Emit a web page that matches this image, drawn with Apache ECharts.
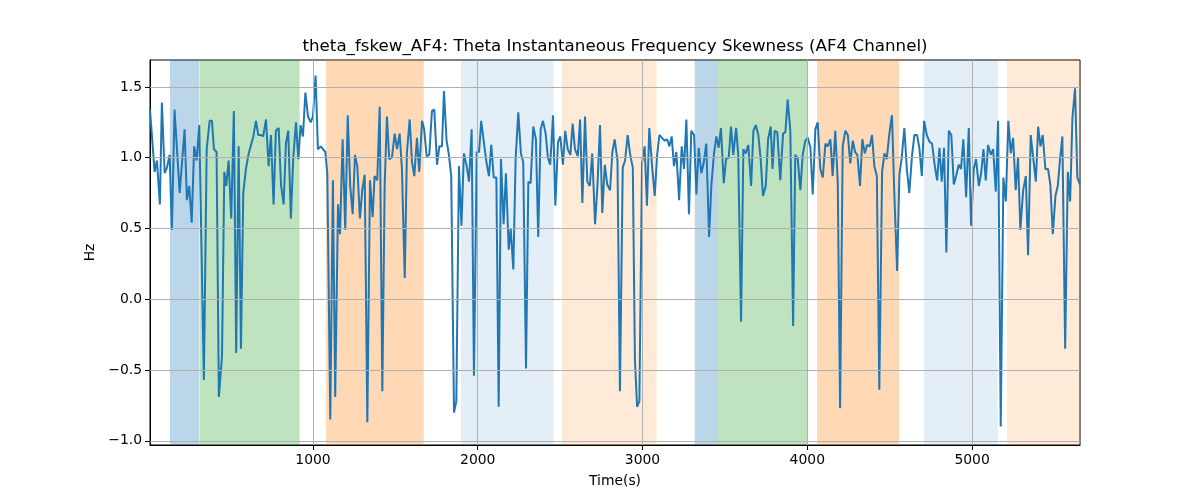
<!DOCTYPE html>
<html><head><meta charset="utf-8">
<script src="https://cdn.jsdelivr.net/npm/echarts@6/dist/echarts.min.js"></script>
<style>html,body{margin:0;padding:0;background:#fff}#c{width:1200px;height:500px}</style>
</head><body><div id="c"></div>
<script>
const times = [11,39,53,71,83,100,114,130,144,160,191,221,235,249,264,279,294,310,338,355,373,387,399,415,429,448,462,474,488,504,520,534,549,563,577,593,610,624,638,654,668,684,698,715,731,745,761,775,792,806,822,836,850,866,880,897,911,925,939,954,970,986,1000,1016,1030,1047,1061,1075,1087,1105,1121,1135,1152,1164,1180,1196,1211,1226,1241,1255,1269,1285,1299,1314,1330,1346,1362,1374,1390,1405,1421,1435,1449,1463,1479,1496,1510,1526,1540,1557,1570,1587,1601,1615,1631,1645,1662,1675,1690,1706,1722,1736,1753,1767,1783,1795,1811,1825,1839,1856,1870,1886,1901,1916,1933,1947,1963,1977,1994,2008,2021,2038,2054,2068,2082,2097,2113,2127,2141,2157,2171,2188,2200,2216,2230,2246,2262,2276,2293,2307,2321,2337,2353,2367,2382,2396,2412,2426,2440,2457,2471,2487,2501,2517,2531,2546,2562,2576,2590,2607,2621,2635,2651,2665,2680,2695,2712,2726,2742,2756,2771,2786,2803,2817,2831,2848,2863,2880,2894,2910,2924,2941,2954,2967,2981,2997,3013,3027,3041,3058,3074,3088,3102,3118,3135,3149,3163,3177,3191,3205,3222,3238,3252,3266,3282,3296,3313,3327,3341,3357,3371,3387,3404,3418,3434,3448,3462,3476,3493,3507,3523,3537,3551,3568,3581,3598,3612,3626,3642,3659,3673,3687,3703,3717,3731,3748,3762,3778,3789,3802,3818,3836,3853,3867,3881,3897,3914,3927,3942,3958,3972,3988,4003,4019,4033,4049,4063,4079,4094,4110,4124,4140,4154,4170,4185,4199,4215,4231,4246,4261,4276,4290,4304,4320,4334,4349,4363,4379,4393,4407,4422,4437,4454,4468,4482,4498,4514,4528,4545,4559,4573,4589,4604,4619,4636,4650,4666,4680,4695,4709,4725,4743,4757,4774,4788,4802,4816,4830,4844,4859,4874,4889,4903,4919,4933,4947,4964,4980,4994,5010,5024,5041,5055,5069,5083,5097,5114,5128,5144,5158,5174,5190,5205,5220,5235,5249,5265,5279,5293,5310,5326,5340,5356,5370,5387,5401,5415,5429,5445,5461,5475,5490,5506,5520,5534,5548,5565,5581,5595,5609,5625,5639,5655];
const values = [1.34,0.90,0.98,0.67,1.39,0.89,0.93,1.02,0.49,1.34,0.75,1.20,0.70,0.80,0.54,1.08,0.98,1.23,-0.57,1.06,1.26,1.26,1.06,1.04,-0.69,-0.40,0.90,0.80,0.98,0.57,1.33,-0.38,1.08,-0.35,0.75,0.92,1.03,1.09,1.15,1.26,1.16,1.16,1.15,1.27,0.94,1.16,0.67,1.19,1.21,0.81,0.67,1.10,1.19,0.57,0.99,1.25,0.99,1.23,1.15,1.46,1.29,1.25,1.29,1.58,1.06,1.08,1.06,1.04,0.89,-0.85,0.84,-0.69,0.67,0.46,1.13,0.49,1.30,0.80,0.60,1.02,0.94,0.57,0.77,0.88,-0.87,0.84,0.58,0.87,0.84,1.36,-0.65,0.80,1.29,0.99,1.00,1.17,1.06,1.17,0.92,0.15,1.03,1.27,0.97,0.87,1.14,0.90,1.26,1.20,1.01,1.02,1.33,1.34,0.95,1.08,1.08,1.47,1.12,1.02,0.87,-0.80,-0.72,0.94,0.52,1.03,0.94,0.83,1.20,-0.54,1.04,1.04,1.26,1.10,0.96,0.87,1.09,0.86,0.86,-0.76,0.99,0.53,0.89,0.35,0.50,0.21,0.99,1.32,1.03,0.97,-0.49,0.83,0.82,1.22,1.13,0.44,1.20,1.26,1.17,1.00,0.95,1.30,0.66,1.11,1.15,0.95,1.19,1.06,1.02,1.24,1.06,1.01,1.27,0.68,1.29,0.83,0.80,1.03,0.53,0.79,1.23,0.61,0.95,0.81,0.77,1.04,1.13,0.98,-0.65,0.93,0.98,1.16,1.03,0.93,-0.43,-0.76,-0.72,0.96,1.08,0.66,1.21,0.94,0.73,1.01,1.16,1.14,1.12,1.13,1.08,1.15,0.94,1.04,0.70,1.08,0.92,1.27,0.60,1.19,1.16,0.74,1.07,0.89,0.96,1.10,0.44,0.81,1.03,1.15,1.07,1.21,0.82,0.99,1.00,1.22,1.02,1.21,1.02,-0.16,1.06,1.03,1.09,0.80,1.19,1.23,1.16,0.99,0.73,0.80,1.13,1.22,0.92,1.19,1.18,0.84,1.17,1.18,1.41,1.19,-0.19,1.02,0.99,0.77,1.02,1.12,1.14,1.07,0.74,1.20,1.25,0.92,0.86,1.10,1.08,1.13,0.87,1.19,0.82,-0.77,1.08,1.19,1.16,0.96,1.12,1.04,1.02,0.80,1.13,1.03,1.09,1.08,1.16,0.94,0.87,-0.64,0.90,1.03,0.99,1.17,1.30,0.75,0.20,0.88,1.00,1.21,0.92,0.75,1.02,1.16,1.16,1.07,0.87,1.26,1.16,1.11,1.10,0.94,0.84,1.07,0.83,1.07,0.33,1.19,1.16,0.81,0.87,0.95,0.92,1.13,0.72,1.21,0.52,0.92,0.99,0.80,0.89,1.06,0.84,1.09,1.02,1.06,0.76,1.26,-0.90,0.86,0.69,1.26,1.03,1.14,0.77,1.00,0.49,0.77,0.87,0.31,1.16,1.01,0.83,1.22,1.08,1.16,0.92,0.92,0.81,0.46,0.73,0.80,0.99,1.15,-0.35,0.90,0.69,1.28,1.49,0.86,0.81];
const spanStarts = [132,313,1079,1898,2511,3317,3458,4059,4709,5212];
const spanEnds   = [310,919,1672,2461,3086,3458,4000,4557,5156,5655];
const spanKinds  = ['blue','green','orange','lightblue','lightorange','blue','green','orange','lightblue','lightorange'];
const xTicks = [1000,2000,3000,4000,5000];
const yTicks = [-1.0,-0.5,0.0,0.5,1.0,1.5];
const xMin = 11, xMax = 5655, yMin = -1.03, yMax = 1.69;
const titleText = 'theta_fskew_AF4: Theta Instantaneous Frequency Skewness (AF4 Channel)';

const spanColors = {
  blue: 'rgba(31,119,180,0.3)', green: 'rgba(44,160,44,0.3)', orange: 'rgba(255,127,14,0.3)',
  lightblue: 'rgba(31,119,180,0.12)', lightorange: 'rgba(255,127,14,0.16)'
};
const points = times.map((t,i)=>[t, values[i]]);
const font = 'DejaVu Sans';
const fmtY = v => (v<0?'\u2212':'') + Math.abs(v).toFixed(1);

const chart = echarts.init(document.getElementById('c'), null, {renderer:'canvas'});
chart.setOption({
  animation: false,
  backgroundColor: '#fff',
  graphic: [{type:'text', x:615, y:47, style:{text:titleText, font:'16.7px "DejaVu Sans"', fill:'#000', textAlign:'center', textVerticalAlign:'middle'}}],
  grid: {left:150, right:120, top:60, bottom:55, show:true, borderColor:'#000', borderWidth:1, backgroundColor:'rgba(0,0,0,0)'},
  xAxis: {type:'value', min:xMin, max:xMax, name:'Time(s)', nameLocation:'middle', nameGap:29,
    nameTextStyle:{fontFamily:font, fontSize:13.9, color:'#000'},
    axisLine:{show:true, onZero:false, lineStyle:{color:'#000', width:1}},
    axisTick:{show:true, length:5, lineStyle:{color:'#000'}, customValues:xTicks},
    axisLabel:{fontFamily:font, fontSize:13.9, color:'#000', margin:8, customValues:xTicks, formatter: v=>String(v)},
    splitLine:{show:false}},
  yAxis: {type:'value', min:yMin, max:yMax, name:'Hz', nameLocation:'middle', nameGap:48,
    nameTextStyle:{fontFamily:font, fontSize:13.9, color:'#000'},
    axisLine:{show:true, onZero:false, lineStyle:{color:'#000', width:1}},
    axisTick:{show:true, length:5, lineStyle:{color:'#000'}, customValues:yTicks},
    axisLabel:{fontFamily:font, fontSize:13.9, color:'#000', margin:8, customValues:yTicks, formatter: fmtY},
    splitLine:{show:false}},
  series: [
    {type:'line', z:1, data:points, showSymbol:false, silent:true, lineStyle:{opacity:0},
     markArea:{silent:true, data: spanStarts.map((s,i)=>[{xAxis:s, itemStyle:{color:spanColors[spanKinds[i]]}},{xAxis:spanEnds[i]}])}},
    {type:'line', z:2, data:points, showSymbol:false, silent:true, lineStyle:{opacity:0},
     markLine:{silent:true, symbol:['none','none'], label:{show:false}, lineStyle:{color:'#b0b0b0', width:1, type:'solid'},
       data: xTicks.map(v=>({xAxis:v})).concat(yTicks.map(v=>({yAxis:v})))}},
    {type:'line', z:3, data:points, showSymbol:false, lineStyle:{color:'#1f77b4', width:2}, itemStyle:{color:'#1f77b4'}}
  ]
});
</script></body></html>
